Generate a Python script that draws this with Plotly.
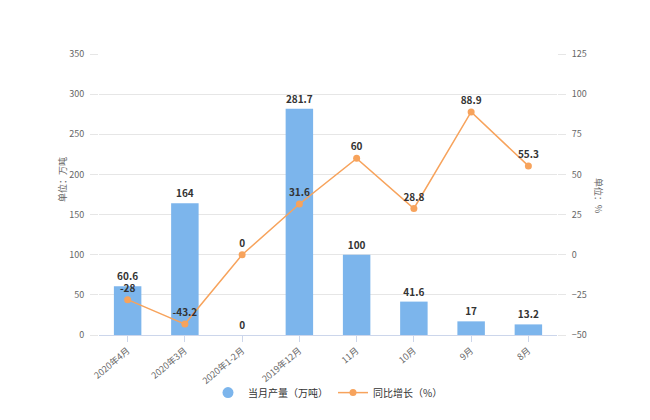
import plotly.graph_objects as go

categories = ["2020年4月", "2020年3月", "2020年1-2月", "2019年12月", "11月", "10月", "9月", "8月"]
output_vals = [60.6, 164, 0, 281.7, 100, 41.6, 17, 13.2]
growth_vals = [-28, -43.2, 0, 31.6, 60, 28.8, 88.9, 55.3]
left_ticks = [0, 50, 100, 150, 200, 250, 300, 350]
right_ticks = [-50, -25, 0, 25, 50, 75, 100, 125]

bar_color = "#7cb5ec"
line_color = "#f7a35c"
font = "Noto Sans CJK SC, Noto Sans, sans-serif"

fig = go.Figure()
fig.add_trace(go.Bar(
    x=categories, y=output_vals, name="当月产量（万吨）", showlegend=False,
    marker=dict(color=bar_color, line=dict(width=0)),
    text=[f"{v:g}" for v in output_vals], textposition="outside",
    textfont=dict(size=10, color="#333333", family=font, weight="bold"),
    cliponaxis=False,
))
# legend proxy for the bar series (circle symbol as in the reference)
fig.add_trace(go.Scatter(
    x=[None], y=[None], mode="markers", name="当月产量（万吨）",
    marker=dict(color=bar_color, size=11, symbol="circle"),
))
fig.add_trace(go.Scatter(
    x=categories, y=growth_vals, name="同比增长（%）", yaxis="y2",
    mode="lines+markers+text",
    line=dict(color=line_color, width=1.5),
    marker=dict(color=line_color, size=7),
    text=[f"{v:g}" for v in growth_vals], textposition="top center",
    textfont=dict(size=10, color="#333333", family=font, weight="bold"),
    cliponaxis=False,
))

fig.update_layout(
    width=650, height=420,
    margin=dict(l=99, r=93, t=54, b=85),
    paper_bgcolor="white", plot_bgcolor="white",
    font=dict(family=font, size=9, color="#666666"),
    bargap=0.52,
    showlegend=True,
    legend=dict(orientation="h", x=0.5, xanchor="center", y=-0.205, yanchor="middle",
                font=dict(size=10, color="#333333"), itemsizing="trace", itemwidth=30,
                bgcolor="rgba(0,0,0,0)"),
    xaxis=dict(
        tickangle=-40, showgrid=False, showline=True, linecolor="#ccd6eb", linewidth=1,
        ticks="outside", ticklen=6, tickcolor="#ccd6eb",
        tickfont=dict(size=9, color="#666666"),
    ),
    yaxis=dict(
        range=[0, 350], tickvals=left_ticks, showgrid=True, gridcolor="#e6e6e6",
        ticks="outside", ticklen=8, tickcolor="#e6e6e6", zeroline=False,
        tickfont=dict(size=9, color="#666666"), ticklabelstandoff=4,
    ),
    yaxis2=dict(
        range=[-50, 125], tickvals=right_ticks, overlaying="y", side="right",
        showgrid=False, ticks="outside", ticklen=8, tickcolor="#e6e6e6", zeroline=False,
        tickfont=dict(size=9, color="#666666"), ticklabelstandoff=4,
    ),
    annotations=[
        dict(text="单位：万吨", x=62, y=180, xref="paper", yref="paper", showarrow=False,
             xanchor="center", yanchor="middle",
             textangle=-90, font=dict(size=9, color="#666666")),
        dict(text="单位：%", x=599, y=195, xref="paper", yref="paper", showarrow=False,
             xanchor="center", yanchor="middle",
             textangle=90, font=dict(size=9, color="#666666")),
    ],
)
# convert pixel positions of annotations to paper coords
pw, ph = 650 - 99 - 93, 420 - 54 - 85
for a in fig.layout.annotations:
    a.x = (a.x - 99) / pw
    a.y = (420 - 85 - a.y) / ph

fig.write_html("out.html")
